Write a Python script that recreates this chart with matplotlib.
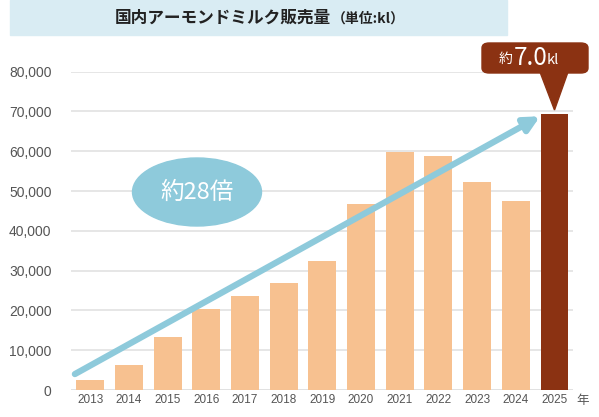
import numpy as np
import matplotlib.pyplot as plt
from matplotlib.patches import Ellipse, FancyBboxPatch, Polygon, Rectangle

plt.rcParams['font.family'] = ['Noto Sans CJK JP', 'DejaVu Sans']

years = ['2013', '2014', '2015', '2016', '2017', '2018', '2019',
         '2020', '2021', '2022', '2023', '2024', '2025']
sales = [2500, 6300, 13300, 20400, 23700, 26900, 32400,
         46700, 59800, 58900, 52300, 47500, 69300]
yticks = [0, 10000, 20000, 30000, 40000, 50000, 60000, 70000, 80000]

W, H = 599, 417
fig = plt.figure(figsize=(W / 100, H / 100), dpi=100)


def px(x, y):
    # pixel (top-left origin) -> figure fraction
    return x / W, 1 - y / H


ax = fig.add_axes([71 / W, 1 - 390 / H, (573 - 71) / W, (390 - 71.7) / H])
x = np.arange(len(years))
colors = ['#f7c190'] * (len(years) - 1) + ['#8b3212']
ax.bar(x, sales, width=0.72, color=colors, zorder=2)

ax.set_xlim(-0.5, 12.48)
ax.set_ylim(0, 80000)
ax.set_yticks(yticks)
ax.set_yticklabels([f'{v:,}' for v in yticks], color='#555555', fontsize=10,
                   family=['Liberation Sans', 'DejaVu Sans'])
ax.set_xticks(x)
ax.set_xticklabels(years, color='#555555', fontsize=8.5,
                   family=['Liberation Sans', 'DejaVu Sans'])
ax.tick_params(length=0, axis='y', pad=14)
ax.tick_params(length=0, axis='x', pad=3)
ax.grid(axis='y', color='#e2e2e2', lw=1.2, zorder=0)
for s in ax.spines.values():
    s.set_visible(False)
ax.axhline(0, color='#d8d8d8', lw=1.2, zorder=1)
ax.text(12.72, -2600, '年', color='#555555', fontsize=9, ha='center', va='center',
        clip_on=False)

# growth arrow
ax.annotate('', xy=(11.63, sales[-1] - 500), xytext=(-0.4, 4000),
            arrowprops=dict(arrowstyle='-|>,head_length=0.9,head_width=0.45',
                            color='#8ecadb', lw=4.5, shrinkA=0, shrinkB=0),
            zorder=3)

# title band
fig.patches.append(Rectangle(px(10, 35), (507 - 10) / W, 35 / H,
                             transform=fig.transFigure, color='#d9ecf3', zorder=0))
fig.text(*px(331, 18), '国内アーモンドミルク販売量', fontsize=12, ha='right',
         va='center', color='#222222', weight='bold')
fig.text(*px(332, 19), '（単位:kl）', fontsize=10, ha='left', va='center',
         color='#222222', weight='bold')

# ellipse label
fig.patches.append(Ellipse(px(197, 192), 129 / W, 68 / H, transform=fig.transFigure,
                           color='#8ecadb', zorder=5))
fig.text(*px(197, 192), '約28倍', fontsize=17, color='white', ha='center',
         va='center', zorder=6)

# callout over 2025 bar
cx0, cy0 = px(482, 73)
fig.patches.append(FancyBboxPatch((cx0, cy0), (588 - 482) / W, 30 / H,
                                  boxstyle='round,pad=0,rounding_size=0.012',
                                  transform=fig.transFigure, color='#8b3212', zorder=5))
fig.patches.append(Polygon([px(540, 72), px(568, 72), px(554.5, 110)], closed=True,
                           transform=fig.transFigure, color='#8b3212', zorder=5))
fig.text(*px(513, 59), '約', fontsize=10, color='white', ha='right', va='center', zorder=6)
fig.text(*px(514, 58), '7.0', fontsize=17.5, color='white', ha='left', va='center', zorder=6)
fig.text(*px(547, 59.5), 'kl', fontsize=10.5, color='white', ha='left', va='center', zorder=6)

fig.savefig('out.png', dpi=100)
